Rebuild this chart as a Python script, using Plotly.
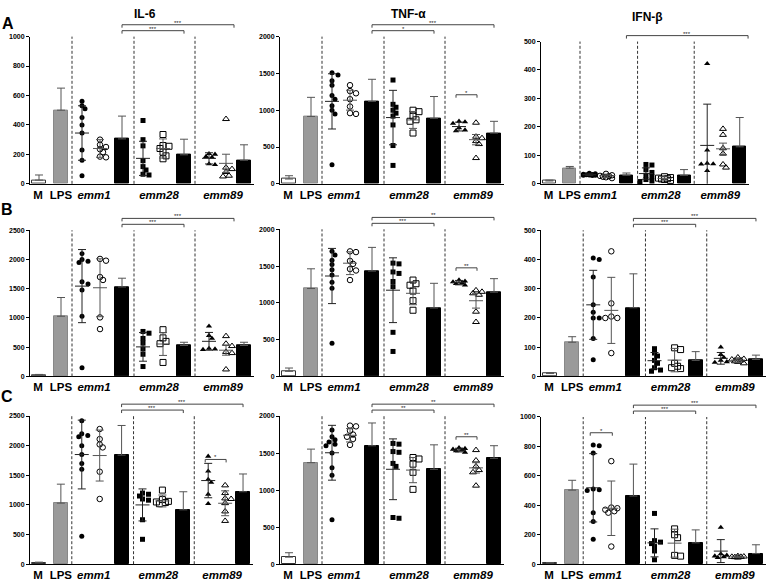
import plotly.graph_objects as go

# ------------------------------------------------------------------
# DATA
# bars: M, LPS, emm1, emm28, emm89 ; points: filled / open per emm type
# means/errs: emm1 filled, emm1 open, emm28 filled, emm28 open, emm89 filled, emm89 open
# ------------------------------------------------------------------
CYTOKINES = ["IL-6", "TNF-α", "IFN-β"]
ROW_LETTERS = ["A", "B", "C"]
CATEGORY_LABELS = ["M", "LPS", "emm1", "emm28", "emm89"]
Y_MAX = [[1000, 2000, 500], [2500, 2000, 500], [2500, 2000, 1000]]
Y_DTICK = [[200, 500, 100], [500, 500, 100], [500, 500, 200]]

# ---- Row A ----
A_IL6_bars = [25, 500, 305, 197, 160]
A_IL6_bar_err = [35, 150, 155, 106, 105]
A_IL6_emm1_filled = [560, 530, 510, 450, 400, 345, 230, 160, 55]
A_IL6_emm1_open = [300, 265, 250, 235, 215, 185, 180]
A_IL6_emm28_filled = [430, 300, 258, 157, 117, 94, 65, 60]
A_IL6_emm28_open = [335, 260, 255, 240, 215, 190, 170]
A_IL6_emm89_filled = [205, 200, 185, 180, 135, 130]
A_IL6_emm89_open = [440, 110, 100, 80, 55, 50]
A_IL6_means = [345, 240, 173, 240, 173, 139]
A_IL6_errs = [185, 60, 116, 65, 38, 62]

A_TNF_bars = [65, 915, 1120, 890, 689]
A_TNF_bar_err = [45, 260, 300, 296, 160]
A_TNF_emm1_filled = [1510, 1480, 1400, 1340, 1200, 1150, 1060, 1000, 950, 260]
A_TNF_emm1_open = [1340, 1260, 1230, 1150, 1050, 960, 950]
A_TNF_emm28_filled = [1410, 1080, 1040, 1000, 960, 920, 800, 520, 250]
A_TNF_emm28_open = [1000, 980, 920, 870, 850, 690]
A_TNF_emm89_filled = [850, 840, 820, 760, 730, 720]
A_TNF_emm89_open = [830, 640, 620, 580, 540, 350]
A_TNF_means = [1120, 1136, 900, 868, 778, 600]
A_TNF_errs = [375, 135, 370, 115, 60, 70]

A_IFN_bars = [10, 55, 30, 30, 130]
A_IFN_bar_err = [3, 6, 8, 20, 103]
A_IFN_emm1_filled = [37, 35, 34, 33, 32, 31, 30, 30, 29]
A_IFN_emm1_open = [35, 30, 28, 27, 25, 23, 20]
A_IFN_emm28_filled = [68, 66, 50, 40, 30, 25, 15, 10, 8]
A_IFN_emm28_open = [25, 22, 20, 18, 17, 15, 12]
A_IFN_emm89_filled = [422, 118, 72, 70, 69, 46]
A_IFN_emm89_open = [193, 172, 125, 106, 68, 57]
A_IFN_means = [32, 28, 36, 19, 135, 123]
A_IFN_errs = [3, 6, 20, 6, 145, 20]

# ---- Row B ----
B_IL6_bars = [25, 1030, 1530, 530, 530]
B_IL6_bar_err = [10, 320, 150, 55, 55]
B_IL6_emm1_filled = [2100, 2000, 1970, 1950, 1620, 1580, 1480, 1030, 150]
B_IL6_emm1_open = [2010, 1980, 1700, 1650, 1010, 810]
B_IL6_emm28_filled = [770, 740, 650, 570, 470, 380, 170]
B_IL6_emm28_open = [800, 660, 600, 560, 240]
B_IL6_emm89_filled = [860, 700, 650, 480, 470, 460]
B_IL6_emm89_open = [690, 560, 520, 420, 400, 120]
B_IL6_means = [1545, 1517, 506, 555, 601, 449]
B_IL6_errs = [625, 495, 245, 195, 152, 85]

B_TNF_bars = [70, 1195, 1432, 930, 1145]
B_TNF_bar_err = [45, 268, 322, 336, 184]
B_TNF_emm1_filled = [1700, 1650, 1580, 1520, 1450, 1380, 1280, 1200, 450]
B_TNF_emm1_open = [1700, 1690, 1570, 1530, 1460, 1440, 1310]
B_TNF_emm28_filled = [1540, 1530, 1420, 1400, 1290, 1220, 600, 340]
B_TNF_emm28_open = [1310, 1260, 1240, 1160, 1030, 900]
B_TNF_emm89_filled = [1310, 1295, 1285, 1270, 1260, 1240]
B_TNF_emm89_open = [1170, 1150, 1130, 1110, 880, 740]
B_TNF_means = [1365, 1539, 1172, 1130, 1275, 1029]
B_TNF_errs = [375, 155, 440, 155, 30, 100]

B_IFN_bars = [10, 117, 235, 55, 58]
B_IFN_bar_err = [3, 19, 116, 30, 15]
B_IFN_emm1_filled = [405, 400, 340, 245, 220, 200, 200, 130, 57]
B_IFN_emm1_open = [428, 250, 205, 200, 200, 80]
B_IFN_emm28_filled = [95, 80, 70, 55, 45, 30, 22, 18]
B_IFN_emm28_open = [98, 92, 45, 35, 30, 27]
B_IFN_emm89_filled = [100, 75, 65, 55, 50, 48]
B_IFN_emm89_open = [65, 60, 58, 55, 52, 50, 45]
B_IFN_means = [245, 226, 54, 56, 62, 56]
B_IFN_errs = [118, 113, 28, 40, 20, 8]

# ---- Row C ----
C_IL6_bars = [25, 1030, 1840, 917, 1222]
C_IL6_bar_err = [10, 320, 500, 305, 300]
C_IL6_emm1_filled = [2420, 2200, 2170, 2150, 2000, 1850, 1700, 1600, 470]
C_IL6_emm1_open = [2280, 2110, 2020, 1970, 1560, 1100]
C_IL6_emm28_filled = [1200, 1180, 1150, 1100, 1080, 750, 420]
C_IL6_emm28_open = [1250, 1090, 1060, 1050, 1040, 1020]
C_IL6_emm89_filled = [1820, 1570, 1430, 1380, 1180, 1020]
C_IL6_emm89_open = [1330, 1200, 1110, 1100, 1030, 890, 730]
C_IL6_means = [1850, 1833, 1000, 1067, 1411, 1028]
C_IL6_errs = [580, 430, 270, 100, 290, 210]

C_TNF_bars = [95, 1370, 1598, 1281, 1429]
C_TNF_bar_err = [60, 183, 308, 330, 170]
C_TNF_emm1_filled = [1810, 1720, 1680, 1650, 1620, 1600, 1500, 1300, 1200, 600]
C_TNF_emm1_open = [1870, 1860, 1800, 1750, 1720, 1690, 1610]
C_TNF_emm28_filled = [1630, 1620, 1520, 1510, 1360, 1320, 630, 620]
C_TNF_emm28_open = [1440, 1420, 1350, 1240, 1010]
C_TNF_emm89_filled = [1570, 1560, 1550, 1540, 1530, 1510]
C_TNF_emm89_open = [1540, 1400, 1320, 1270, 1240, 1060]
C_TNF_means = [1504, 1740, 1281, 1270, 1540, 1300]
C_TNF_errs = [370, 90, 410, 170, 25, 70]

C_IFN_bars = [8, 503, 463, 145, 72]
C_IFN_bar_err = [3, 67, 217, 88, 60]
C_IFN_emm1_filled = [810, 805, 755, 510, 505, 500, 350, 290, 170]
C_IFN_emm1_open = [700, 385, 380, 370, 360, 350, 120]
C_IFN_emm28_filled = [345, 160, 150, 140, 120, 90, 30]
C_IFN_emm28_open = [240, 200, 180, 60, 55]
C_IFN_emm89_filled = [250, 70, 60, 55, 50, 45]
C_IFN_emm89_open = [55, 52, 50, 50, 48, 45]
C_IFN_means = [519, 380, 145, 143, 89, 50]
C_IFN_errs = [232, 185, 95, 95, 78, 5]

# significance: (from, to, text) between-group brackets above plot; within brackets at value
A_IL6_sig_top = [("g1b", "g3b-", "***"), ("g1b", "g2b", "***")]
A_TNF_sig_top = [("g1b", "g3b", "***"), ("g1b", "g2b", "*")]
A_IFN_sig_top = [("g1b", "end", "***")]
B_IL6_sig_top = [("g1b", "g3b-", "***"), ("g1b", "g2b", "***")]
B_TNF_sig_top = [("g1b", "g3b", "**"), ("g1b", "g2b", "***")]
B_IFN_sig_top = [("g1b", "g3b", "***"), ("g1b", "g2b", "***")]
C_IL6_sig_top = [("g1b", "g3b", "***"), ("g1b", "g2b", "***")]
C_TNF_sig_top = [("g1b", "g3b", "**"), ("g1b", "g2b", "**")]
C_IFN_sig_top = [("g1b", "g3b", "***"), ("g1b", "g2b", "***")]

A_TNF_sig_in = [("g3f", "g3o", 1210, "*")]
B_TNF_sig_in = [("g3f", "g3o", 1476, "**")]
C_IL6_sig_in = [("g3f", "g3o", 1767, "*")]
C_TNF_sig_in = [("g3f", "g3o", 1720, "**")]
C_IFN_sig_in = [("g1f", "g1o", 893, "*")]

PANELS = [
    [dict(bars=A_IL6_bars, berr=A_IL6_bar_err, pts=[A_IL6_emm1_filled, A_IL6_emm1_open, A_IL6_emm28_filled, A_IL6_emm28_open, A_IL6_emm89_filled, A_IL6_emm89_open], means=A_IL6_means, errs=A_IL6_errs, top=A_IL6_sig_top, inn=[]),
     dict(bars=A_TNF_bars, berr=A_TNF_bar_err, pts=[A_TNF_emm1_filled, A_TNF_emm1_open, A_TNF_emm28_filled, A_TNF_emm28_open, A_TNF_emm89_filled, A_TNF_emm89_open], means=A_TNF_means, errs=A_TNF_errs, top=A_TNF_sig_top, inn=A_TNF_sig_in),
     dict(bars=A_IFN_bars, berr=A_IFN_bar_err, pts=[A_IFN_emm1_filled, A_IFN_emm1_open, A_IFN_emm28_filled, A_IFN_emm28_open, A_IFN_emm89_filled, A_IFN_emm89_open], means=A_IFN_means, errs=A_IFN_errs, top=A_IFN_sig_top, inn=[])],
    [dict(bars=B_IL6_bars, berr=B_IL6_bar_err, pts=[B_IL6_emm1_filled, B_IL6_emm1_open, B_IL6_emm28_filled, B_IL6_emm28_open, B_IL6_emm89_filled, B_IL6_emm89_open], means=B_IL6_means, errs=B_IL6_errs, top=B_IL6_sig_top, inn=[]),
     dict(bars=B_TNF_bars, berr=B_TNF_bar_err, pts=[B_TNF_emm1_filled, B_TNF_emm1_open, B_TNF_emm28_filled, B_TNF_emm28_open, B_TNF_emm89_filled, B_TNF_emm89_open], means=B_TNF_means, errs=B_TNF_errs, top=B_TNF_sig_top, inn=B_TNF_sig_in),
     dict(bars=B_IFN_bars, berr=B_IFN_bar_err, pts=[B_IFN_emm1_filled, B_IFN_emm1_open, B_IFN_emm28_filled, B_IFN_emm28_open, B_IFN_emm89_filled, B_IFN_emm89_open], means=B_IFN_means, errs=B_IFN_errs, top=B_IFN_sig_top, inn=[])],
    [dict(bars=C_IL6_bars, berr=C_IL6_bar_err, pts=[C_IL6_emm1_filled, C_IL6_emm1_open, C_IL6_emm28_filled, C_IL6_emm28_open, C_IL6_emm89_filled, C_IL6_emm89_open], means=C_IL6_means, errs=C_IL6_errs, top=C_IL6_sig_top, inn=C_IL6_sig_in),
     dict(bars=C_TNF_bars, berr=C_TNF_bar_err, pts=[C_TNF_emm1_filled, C_TNF_emm1_open, C_TNF_emm28_filled, C_TNF_emm28_open, C_TNF_emm89_filled, C_TNF_emm89_open], means=C_TNF_means, errs=C_TNF_errs, top=C_TNF_sig_top, inn=C_TNF_sig_in),
     dict(bars=C_IFN_bars, berr=C_IFN_bar_err, pts=[C_IFN_emm1_filled, C_IFN_emm1_open, C_IFN_emm28_filled, C_IFN_emm28_open, C_IFN_emm89_filled, C_IFN_emm89_open], means=C_IFN_means, errs=C_IFN_errs, top=C_IFN_sig_top, inn=C_IFN_sig_in)],
]

# ------------------------------------------------------------------
# LAYOUT / STYLE
# ------------------------------------------------------------------
W, H = 772, 584
POS = {"M": 9, "LPS": 31, "g1f": 52, "g1o": 70, "g1b": 92, "g2f": 113, "g2o": 133, "g2b": 154,
       "g3f": 179, "g3o": 196, "g3b": 214, "g3b-": 204, "end": 223}
DASHES = [42, 104, 165]
X_END = 224
LABEL_POS = [8, 31, 64, 129, 193]
BAR_POS = ["M", "LPS", "g1b", "g2b", "g3b"]
PT_POS = ["g1f", "g1o", "g2f", "g2o", "g3f", "g3o"]
BAR_COLORS = ["white", "#9a9a9a", "black", "black", "black"]
BAR_LINE = ["#333", "#888", "black", "black", "black"]
SYMBOLS = ["circle", "circle-open", "square", "square-open", "triangle-up", "triangle-up-open"]
SIZES = [5, 5.5, 5, 6, 5.5, 6]
STAT_COLORS = ["#222", "#555", "#222", "#555", "#222", "#555"]

COL_X0 = [30, 280, 541]
COL_X1 = [[254, 504, 749], [254, 504, 766], [253, 504, 766]]
ROW_TOP = [[33, 33, 38], [229, 228, 229], [417, 417, 418]]
ROW_BOT = [182, 377, 567]
TOP_LEVELS = [12, 6]  # px above plot top for the two brackets
FONT = "Arial, Liberation Sans, sans-serif"


def swarm(vals, ppu_y, ppu_x, d=4.2, cands=(0, 3, -3, 6, -6)):
    placed, out = [], []
    for v in vals:
        yp = v * ppu_y
        best_c, best_ov = None, None
        for c in cands:
            ov = 0.0
            for (px, py) in placed:
                dist = ((c - px) ** 2 + (yp - py) ** 2) ** 0.5
                ov = max(ov, d - dist)
            if best_ov is None or ov < best_ov - 1e-9:
                best_c, best_ov = c, ov
            if ov <= 0:
                break
        placed.append((best_c, yp))
        out.append(best_c / ppu_x)
    return out


fig = go.Figure()
layout = {}
shapes = []
annotations = []

for r in range(3):
    for c in range(3):
        p = PANELS[r][c]
        n = r * 3 + c + 1
        xn = "x" if n == 1 else f"x{n}"
        yn = "y" if n == 1 else f"y{n}"
        x0, x1 = COL_X0[c], COL_X1[r][c]
        top, bot = ROW_TOP[r][c], ROW_BOT[r]
        ymax = Y_MAX[r][c]
        ppu_x = (x1 - x0) / X_END
        plot_h = bot - top
        ppu_y = plot_h / ymax

        layout["xaxis" if n == 1 else f"xaxis{n}"] = dict(
            domain=[x0 / W, x1 / W], range=[0, X_END], anchor=yn,
            showline=True, linecolor="black", linewidth=1, ticks="",
            tickvals=LABEL_POS, tickangle=0,
            ticktext=["<b>M</b>", "<b>LPS</b>"] + [f"<b><i>{t}</i></b>" for t in CATEGORY_LABELS[2:]],
            tickfont=dict(family=FONT, size=11.5, color="black"),
            showgrid=False, zeroline=False, fixedrange=True)
        layout["yaxis" if n == 1 else f"yaxis{n}"] = dict(
            domain=[1 - bot / H, 1 - top / H], range=[0, ymax], anchor=xn,
            tick0=0, dtick=Y_DTICK[r][c],
            showline=True, linecolor="black", linewidth=1,
            ticks="outside", ticklen=3, tickwidth=1, tickcolor="black",
            tickfont=dict(family=FONT, size=7, color="black", weight="bold"),
            showgrid=False, zeroline=False, fixedrange=True)

        # bars
        fig.add_trace(go.Bar(
            x=[POS[k] for k in BAR_POS], y=p["bars"], width=14,
            marker=dict(color=BAR_COLORS, line=dict(color=BAR_LINE, width=1)),
            error_y=dict(type="data", array=p["berr"], arrayminus=[0] * 5, symmetric=False,
                         color="#555", thickness=1, width=4),
            xaxis=xn, yaxis=yn, showlegend=False, hoverinfo="skip"))

        # dashed separators
        for dx in DASHES:
            shapes.append(dict(type="line", xref=xn, yref=f"{yn} domain", x0=dx, x1=dx, y0=0, y1=1,
                               line=dict(color="#333", width=1, dash="3px,2px")))

        # points, means, errors
        for g in range(6):
            vals = p["pts"][g]
            base = POS[PT_POS[g]]
            offs = swarm(vals, ppu_y, ppu_x)
            open_sym = SYMBOLS[g].endswith("open")
            fig.add_trace(go.Scatter(
                x=[base + o for o in offs], y=vals, mode="markers",
                marker=dict(symbol=SYMBOLS[g], size=SIZES[g], color="black",
                            line=dict(width=1 if open_sym else 0, color="black")),
                xaxis=xn, yaxis=yn, showlegend=False, hoverinfo="skip", cliponaxis=False))
            m = p["means"][g]
            hw = 7 / ppu_x
            fig.add_trace(go.Scatter(
                x=[base - hw, base + hw], y=[m, m], mode="lines",
                line=dict(color=STAT_COLORS[g], width=1),
                xaxis=xn, yaxis=yn, showlegend=False, hoverinfo="skip", cliponaxis=False))
            fig.add_trace(go.Scatter(
                x=[base], y=[m], mode="markers", marker=dict(size=1, opacity=0),
                error_y=dict(type="data", array=[p["errs"][g]], color=STAT_COLORS[g], thickness=1, width=4),
                xaxis=xn, yaxis=yn, showlegend=False, hoverinfo="skip", cliponaxis=False))

        # significance brackets above the plot
        for i, (a, b, txt) in enumerate(p["top"]):
            lvl = TOP_LEVELS[i] if len(p["top"]) > 1 else TOP_LEVELS[1]
            yl = 1 + lvl / plot_h
            yd = 1 + (lvl - 3) / plot_h
            xa, xb = POS[a], POS[b]
            for (sx0, sy0, sx1, sy1) in [(xa, yd, xa, yl), (xa, yl, xb, yl), (xb, yl, xb, yd)]:
                shapes.append(dict(type="line", xref=xn, yref=f"{yn} domain",
                                   x0=sx0, y0=sy0, x1=sx1, y1=sy1, line=dict(color="#444", width=1)))
            annotations.append(dict(x=(xa + xb) / 2, y=yl, xref=xn, yref=f"{yn} domain", text=txt,
                                    showarrow=False, xanchor="center", yanchor="bottom", yshift=-3,
                                    font=dict(family=FONT, size=6, color="#222")))
        # within-group brackets
        for (a, b, yv, txt) in p["inn"]:
            xa, xb = POS[a] - 3, POS[b] + 1
            dy = 3 / ppu_y
            for (sx0, sy0, sx1, sy1) in [(xa, yv - dy, xa, yv), (xa, yv, xb, yv), (xb, yv, xb, yv - dy)]:
                shapes.append(dict(type="line", xref=xn, yref=yn,
                                   x0=sx0, y0=sy0, x1=sx1, y1=sy1, line=dict(color="#444", width=1)))
            annotations.append(dict(x=(xa + xb) / 2, y=yv, xref=xn, yref=yn, text=txt,
                                    showarrow=False, xanchor="center", yanchor="bottom", yshift=-3,
                                    font=dict(family=FONT, size=6, color="#222")))

# titles and panel letters
TITLE_X = [145, 408, 647]
TITLE_Y = [10, 10, 13]
for c in range(3):
    annotations.append(dict(x=TITLE_X[c] / W, y=1 - TITLE_Y[c] / H, xref="paper", yref="paper",
                            text=f"<b>{CYTOKINES[c]}</b>", showarrow=False,
                            xanchor="center", yanchor="middle",
                            font=dict(family=FONT, size=12, color="black")))
LETTER_X = [8, 7, 7]
LETTER_Y = [20, 208, 397]
for r in range(3):
    annotations.append(dict(x=LETTER_X[r] / W, y=1 - LETTER_Y[r] / H, xref="paper", yref="paper",
                            text=f"<b>{ROW_LETTERS[r]}</b>", showarrow=False,
                            xanchor="center", yanchor="middle",
                            font=dict(family=FONT, size=16, color="black")))

fig.update_layout(
    width=W, height=H, margin=dict(l=0, r=0, t=0, b=0),
    paper_bgcolor="white", plot_bgcolor="white",
    shapes=shapes, annotations=annotations, bargap=0, hovermode=False,
    showlegend=False, **layout)

fig.write_html("out.html", config={"displayModeBar": False},
               post_script="document.body.style.margin='0px';document.body.style.padding='0px';")
